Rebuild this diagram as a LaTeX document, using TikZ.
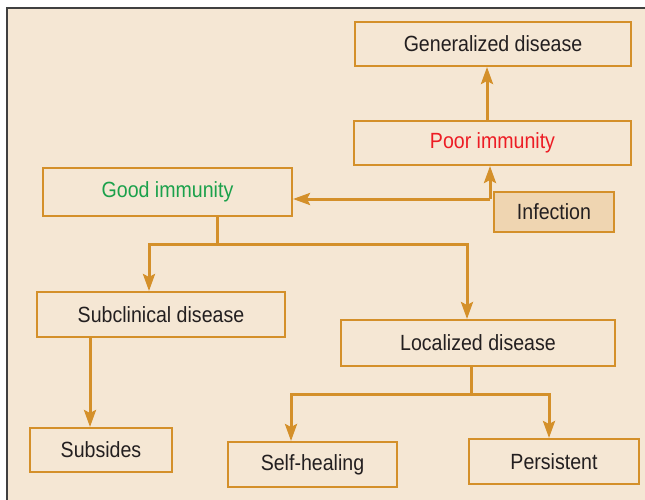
\documentclass[tikz,border=0pt]{standalone}
\usepackage{fontspec}
\setmainfont{Liberation Sans}[FakeStretch=0.89]
\usetikzlibrary{arrows.meta,positioning}
\definecolor{panelbg}{RGB}{245,231,212}
\definecolor{linebrown}{RGB}{212,144,42}
\definecolor{fillinf}{RGB}{239,213,177}
\definecolor{textgray}{RGB}{35,31,32}
\definecolor{goodgreen}{RGB}{27,161,75}
\definecolor{poorred}{RGB}{237,28,36}

\begin{document}
\begin{tikzpicture}[x=1pt, y=-1pt,
  box/.style={draw=linebrown, line width=2pt, minimum height=44pt, inner sep=0pt,
    font=\fontsize{22}{24}\selectfont, text=textgray},
  flow/.style={draw=linebrown, line width=3pt, -{Stealth[length=17pt, width=12pt, inset=3pt]}},
  link/.style={draw=linebrown, line width=3pt}]

\useasboundingbox (0,0) rectangle (645,500);
\draw[fill=panelbg, draw=black!75, line width=1.4pt] (7,8) rectangle (680,540);

% upper part
\node[box, minimum width=276pt] (gen) at (493,44) {Generalized disease};
\node[box, minimum width=277pt, text=poorred] (poor) at (492.5,143) {Poor immunity};
\node[box, minimum width=249pt, minimum height=48pt, text=goodgreen] (good) at (167.5,192) {Good immunity};
\node[box, minimum width=120pt, minimum height=40pt, fill=fillinf] (inf) at (554,212) {Infection};

\coordinate (split) at (490,199);
\draw[flow] (poor.north -| 487,0) -- (gen.south -| 487,0);
\draw[flow] (split) -- (poor.south -| split);
\draw[flow] (split) -- (good.east |- split);

% middle part
\node[box, minimum width=248pt, minimum height=45pt] (subc) at (161,314.5) {Subclinical disease};
\node[box, minimum width=274pt, minimum height=46pt] (loc) at (478,343) {Localized disease};

\coordinate (gsplit) at (217,244);
\draw[link] (good.south -| gsplit) -- (gsplit);
\draw[flow] (gsplit) -| (subc.north -| 149,0);
\draw[flow] (gsplit) -| (loc.north -| 467,0);

% lower part
\node[box, minimum width=142pt] (subs) at (101,450) {Subsides};
\node[box, minimum width=169pt, minimum height=45pt] (self) at (312.5,464.5) {Self-healing};
\node[box, minimum width=170pt, minimum height=45pt] (pers) at (554,461.5) {Persistent};

\draw[flow] (subc.south -| 90,0) -- (subs.north -| 90,0);

\coordinate (lsplit) at (471,394);
\draw[link] (loc.south -| lsplit) -- (lsplit);
\draw[flow] (lsplit) -| (self.north -| 291,0);
\draw[flow] (lsplit) -| (pers.north -| 549,0);

\end{tikzpicture}
\end{document}
